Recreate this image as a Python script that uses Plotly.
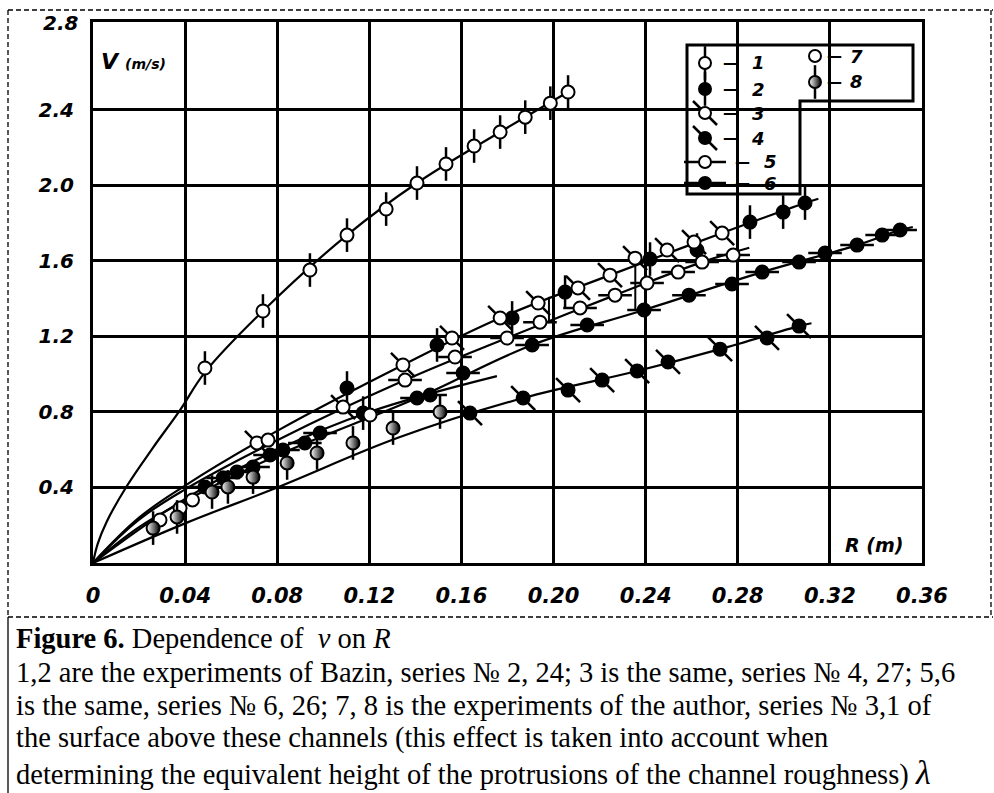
import plotly.graph_objects as go

# ---------------- data ----------------
x_ticks = [0, 0.04, 0.08, 0.12, 0.16, 0.20, 0.24, 0.28, 0.32, 0.36]
x_tick_text = ["0", "0.04", "0.08", "0.12", "0.16", "0.20", "0.24", "0.28", "0.32", "0.36"]
y_ticks = [0.4, 0.8, 1.2, 1.6, 2.0, 2.4]
y_tick_text = ["0.4", "0.8", "1.2", "1.6", "2.0", "2.4"]

s1_R = [0.0486, 0.0738, 0.0942, 0.1103, 0.1273, 0.1407, 0.1533, 0.1655, 0.1768, 0.1877, 0.1986, 0.2063]
s1_V = [1.033, 1.335, 1.552, 1.737, 1.875, 2.013, 2.114, 2.209, 2.283, 2.362, 2.436, 2.495]

s2_R = [0.1103, 0.1173, 0.1494, 0.1820, 0.2050, 0.2419, 0.2623, 0.2853, 0.2997, 0.3092]
s2_V = [0.927, 0.794, 1.155, 1.298, 1.435, 1.610, 1.658, 1.806, 1.859, 1.907]

s3_R = [0.0712, 0.1086, 0.1346, 0.1559, 0.1768, 0.1933, 0.2106, 0.2245, 0.2354, 0.2493, 0.2610, 0.2732]
s3_V = [0.636, 0.826, 1.049, 1.192, 1.298, 1.377, 1.457, 1.525, 1.615, 1.658, 1.700, 1.748]

s4_R = [0.1637, 0.1868, 0.2063, 0.2211, 0.2363, 0.2497, 0.2723, 0.2927, 0.3066]
s4_V = [0.794, 0.874, 0.916, 0.969, 1.017, 1.065, 1.133, 1.192, 1.255]

s5_R = [0.1355, 0.1572, 0.1798, 0.1941, 0.2115, 0.2267, 0.2406, 0.2541, 0.2645, 0.2780]
s5_V = [0.969, 1.091, 1.192, 1.276, 1.351, 1.419, 1.483, 1.541, 1.594, 1.631]

s6_R = [0.0486, 0.0565, 0.0625, 0.0695, 0.0769, 0.0825, 0.0920, 0.0986, 0.1407, 0.1464,
        0.1607, 0.1907, 0.2146, 0.2393, 0.2588, 0.2775, 0.2906, 0.3066, 0.3179, 0.3318, 0.3427, 0.3505]
s6_V = [0.403, 0.450, 0.482, 0.508, 0.572, 0.599, 0.636, 0.689, 0.874, 0.890,
        1.006, 1.155, 1.261, 1.340, 1.419, 1.478, 1.541, 1.594, 1.642, 1.684, 1.737, 1.764]

s7_R = [0.0291, 0.0378, 0.0432, 0.0760, 0.1203]
s7_V = [0.228, 0.291, 0.334, 0.651, 0.784]

s8_R = [0.0261, 0.0365, 0.0517, 0.0586, 0.0695, 0.0843, 0.0973, 0.1129, 0.1303, 0.1507]
s8_V = [0.185, 0.244, 0.376, 0.403, 0.455, 0.530, 0.583, 0.636, 0.715, 0.800]

# fitted curves
c1_R = [0, 0.002, 0.006, 0.0143, 0.026, 0.0378, 0.0486, 0.0738, 0.1103, 0.1407, 0.1768, 0.2063]
c1_V = [0, 0.10, 0.22, 0.40, 0.61, 0.81, 1.01, 1.335, 1.737, 2.013, 2.283, 2.495]
c23_R = [0, 0.02, 0.04, 0.08, 0.1346, 0.1768, 0.2245, 0.2732, 0.3092, 0.315]
c23_V = [0, 0.24, 0.41, 0.70, 1.049, 1.298, 1.525, 1.748, 1.907, 1.93]
c5_R = [0, 0.02, 0.04, 0.08, 0.1355, 0.1798, 0.2267, 0.2645, 0.285]
c5_V = [0, 0.23, 0.39, 0.65, 0.969, 1.192, 1.419, 1.594, 1.67]
c6_R = [0, 0.02, 0.04, 0.08, 0.1407, 0.1907, 0.2393, 0.2906, 0.3318, 0.3505, 0.356]
c6_V = [0, 0.19, 0.33, 0.57, 0.874, 1.155, 1.340, 1.541, 1.684, 1.764, 1.78]
c4_R = [0, 0.04, 0.08, 0.1333, 0.1868, 0.2363, 0.2723, 0.3066, 0.312]
c4_V = [0, 0.21, 0.40, 0.667, 0.874, 1.017, 1.133, 1.255, 1.27]
c7_R = [0, 0.04, 0.08, 0.12, 0.1754]
c7_V = [0, 0.34, 0.60, 0.80, 0.99]

# short vertical strokes drawn in the original
bar1_R = [0.2355, 0.2355]
bar1_V = [1.34, 1.605]
bar2_R = [0.198, 0.198]
bar2_V = [1.27, 1.41]

caption_lines = [
    "<b>Figure 6.</b> Dependence of  <i>v</i> on <i>R</i>",
    "1,2 are the experiments of Bazin, series № 2, 24; 3 is the same, series № 4, 27; 5,6",
    "is the same, series № 6, 26; 7, 8 is the experiments of the author, series № 3,1 of",
    "the surface above these channels (this effect is taken into account when",
    "determining the equivalent height of the protrusions of the channel roughness) "
    "<span style='font-size:34px'><i>λ</i></span>",
]
legend_labels = ["1", "2", "3", "4", "5", "6", "7", "8"]

# ---------------- geometry helpers (pixels -> paper) ----------------
W, H = 994, 793
L, R, T, B = 93, 922, 22, 563


def px(x):
    return (x - L) / (R - L)


def py(y):
    return (B - y) / (B - T)


AX_FONT = dict(family="DejaVu Sans", size=20, color="black", weight="bold", style="italic")

fig = go.Figure()

# curves
for cr, cv in [(c1_R, c1_V), (c23_R, c23_V), (c5_R, c5_V), (c6_R, c6_V), (c4_R, c4_V), (c7_R, c7_V)]:
    fig.add_trace(go.Scatter(x=cr, y=cv, mode="lines",
                             line=dict(color="black", width=2.2, shape="spline", smoothing=1.1),
                             hoverinfo="skip", showlegend=False))
for br, bv in [(bar1_R, bar1_V), (bar2_R, bar2_V)]:
    fig.add_trace(go.Scatter(x=br, y=bv, mode="lines", line=dict(color="black", width=2),
                             hoverinfo="skip", showlegend=False))


def add_series(xs, ys, tick, fill, xa="x", ya="y", size=13, ticksize=24):
    if tick:
        fig.add_trace(go.Scatter(x=xs, y=ys, mode="markers", xaxis=xa, yaxis=ya,
                                 marker=dict(symbol=tick, size=ticksize, color="black",
                                             line=dict(color="black", width=2.5)),
                                 hoverinfo="skip", showlegend=False))
    if fill == "half":
        m = dict(symbol="circle", size=size, color="white",
                 gradient=dict(type="horizontal", color="black"),
                 line=dict(color="black", width=2))
    else:
        m = dict(symbol="circle", size=size, color="black" if fill == "full" else "white",
                 line=dict(color="black", width=2))
    fig.add_trace(go.Scatter(x=xs, y=ys, mode="markers", xaxis=xa, yaxis=ya, marker=m,
                             hoverinfo="skip", showlegend=False))


series = [
    (s1_R, s1_V, "line-ns", "open"),
    (s2_R, s2_V, "line-ns", "full"),
    (s3_R, s3_V, "line-nw", "open"),
    (s4_R, s4_V, "line-nw", "full"),
    (s5_R, s5_V, "line-ew", "open"),
    (s6_R, s6_V, "line-ew", "full"),
    (s7_R, s7_V, None, "open"),
    (s8_R, s8_V, "line-ns", "half"),
]
for xs, ys, tk, fl in series:
    add_series(xs, ys, tk, fl)

# ---------------- legend box (L shape) ----------------
shapes = []
path = "M {0},{1} L {2},{1} L {2},{3} L {4},{3} L {4},{5} L {0},{5} Z".format(
    px(687), py(45), px(913), py(101), px(800), py(194))
shapes.append(dict(type="path", path=path, xref="paper", yref="paper", layer="between",
                   fillcolor="white", line=dict(color="black", width=3)))

# legend samples on an overlay axis in paper space
leg_pos = [(705, 63), (705, 89), (705, 113), (705, 138), (705, 162), (705, 183), (815, 56), (815, 82)]
for (lx, ly), (xs, ys, tk, fl), lab in zip(leg_pos, series, legend_labels):
    tsz = 30 if tk == "line-ew" else 24
    add_series([px(lx)], [py(ly)], tk, fl, xa="x2", ya="y2", size=12, ticksize=tsz)

annotations = []
for (lx, ly), lab, (xs, ys, tk, fl) in zip(leg_pos, legend_labels, series):
    if lx < 800:
        dash_x = 730 + (12 if tk == "line-ew" else 0)
        num_x = 758 + (12 if tk == "line-ew" else 0)
    else:
        dash_x, num_x = 834, 856
    annotations.append(dict(x=px(dash_x), y=py(ly), xref="paper", yref="paper", text="<b>—</b>",
                            showarrow=False, font=dict(family="DejaVu Sans", size=15, color="black"),
                            xanchor="center", yanchor="middle"))
    annotations.append(dict(x=px(num_x), y=py(ly), xref="paper", yref="paper",
                            text=lab, showarrow=False, font=dict(family="DejaVu Sans", size=18, color="black",
                                                                 weight="bold", style="italic"),
                            xanchor="center", yanchor="middle"))

# axis titles and top tick label
annotations.append(dict(x=px(99), y=py(61), xref="paper", yref="paper", xanchor="left", yanchor="middle",
                        showarrow=False,
                        text="<b><i>V</i></b> <b><i><span style='font-size:14px'>(m/s)</span></i></b>",
                        font=dict(family="DejaVu Sans", size=22, color="black")))
annotations.append(dict(x=px(905), y=py(545), xref="paper", yref="paper", xanchor="right", yanchor="middle",
                        showarrow=False, text="<b><i>R (m)</i></b>",
                        font=dict(family="DejaVu Sans", size=19, color="black")))
annotations.append(dict(x=px(81), y=py(23), xref="paper", yref="paper", xanchor="right", yanchor="middle",
                        showarrow=False, text="2.8", font=AX_FONT))

# caption
for i, (txt, yy) in enumerate(zip(caption_lines, [638, 672, 705, 738, 772])):
    annotations.append(dict(x=px(14), y=py(yy), xref="paper", yref="paper", xanchor="left", yanchor="middle",
                            showarrow=False, text=txt,
                            font=dict(family="Liberation Serif", size=28.5, color="black")))

# dashed frame
dash = dict(color="black", width=1.3, dash="5px,3px")
shapes += [
    dict(type="line", xref="paper", yref="paper", x0=px(8), x1=px(8), y0=py(10), y1=py(617), line=dash),
    dict(type="line", xref="paper", yref="paper", x0=px(8), x1=px(993), y0=py(10), y1=py(10), line=dash),
    dict(type="line", xref="paper", yref="paper", x0=px(991), x1=px(991), y0=py(10), y1=py(617), line=dash),
    dict(type="line", xref="paper", yref="paper", x0=px(8), x1=px(993), y0=py(617), y1=py(617), line=dash),
    dict(type="line", xref="paper", yref="paper", x0=px(8), x1=px(8), y0=py(617), y1=py(793),
         line=dict(color="black", width=1.3)),
]

fig.update_layout(
    width=W, height=H,
    margin=dict(l=L, r=W - R, t=T, b=H - B),
    paper_bgcolor="white", plot_bgcolor="white",
    showlegend=False,
    xaxis=dict(range=[0, 0.36], tickvals=x_ticks, ticktext=x_tick_text, showgrid=True, gridcolor="black",
               gridwidth=2.5, showline=True, linecolor="black", linewidth=3, mirror=True, zeroline=False,
               ticks="", tickfont=AX_FONT | dict(size=21), ticklabelstandoff=12, fixedrange=True),
    yaxis=dict(range=[0, 2.866], tickvals=y_ticks, ticktext=y_tick_text, showgrid=True, gridcolor="black",
               gridwidth=2.5, showline=True, linecolor="black", linewidth=3, mirror=True, zeroline=False,
               ticks="", tickfont=AX_FONT, ticklabelstandoff=12, fixedrange=True),
    xaxis2=dict(range=[0, 1], overlaying="x", visible=False, fixedrange=True),
    yaxis2=dict(range=[0, 1], overlaying="y", visible=False, fixedrange=True),
    shapes=shapes,
    annotations=annotations,
)

fig.write_html("out.html", config={"displayModeBar": False},
               post_script="document.body.style.margin='0px';")
